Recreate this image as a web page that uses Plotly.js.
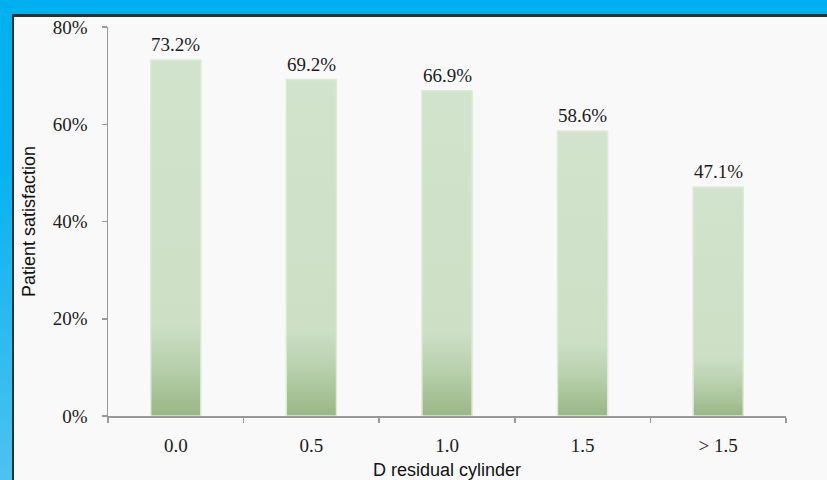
<!DOCTYPE html>
<html>
<head>
<meta charset="utf-8">
<script src="https://cdn.plot.ly/plotly-3.0.1.min.js"></script>
<style>
  html, body { margin: 0; padding: 0; }
  body {
    width: 827px; height: 480px; overflow: hidden; position: relative;
    background: linear-gradient(to bottom, #00AFEF 0%, #08B2EF 35%, #4DC2F0 100%);
  }
  #panel {
    position: absolute; left: 12px; top: 14px; width: 900px; height: 600px;
    background: #F9F9F9; border-top: 3px solid #2E2E2E; border-left: 2px solid #2E2E2E;
  }
  #chart { position: absolute; left: 0; top: 0; width: 827px; height: 480px; }
</style>
</head>
<body>
<svg width="0" height="0" style="position:absolute">
  <defs>
    <linearGradient id="barShade" x1="0" y1="0" x2="0" y2="1">
      <stop offset="0" stop-color="#D1E3CC"/>
      <stop offset="0.74" stop-color="#CDE0C6"/>
      <stop offset="0.86" stop-color="#B8D0AC"/>
      <stop offset="1" stop-color="#99B786"/>
    </linearGradient>
  </defs>
</svg>
<div id="panel"></div>
<div id="chart"></div>
<script>
// Residual cylinder groups and share of satisfied patients (%)
const categories = ['0.0', '0.5', '1.0', '1.5', '> 1.5'];
const satisfaction = [73.2, 69.2, 66.9, 58.6, 47.1];
const yTickValues = [0, 20, 40, 60, 80];
const yTickLabels = ['0%', '20%', '40%', '60%', '80%'];

const serif = 'Liberation Serif, Times New Roman, serif';
const sans = 'Liberation Sans, Arial, sans-serif';

const bars = {
  type: 'bar',
  x: categories,
  y: satisfaction,
  width: 0.37,
  marker: { color: '#CDE0C6', line: { color: '#DDEBD6', width: 1.5 } },
  hoverinfo: 'skip'
};

// value labels sit above each bar (category index on the x axis)
const valueLabels = categories.map((c, i) => ({
  x: i, y: satisfaction[i], xref: 'x', yref: 'y',
  text: satisfaction[i].toFixed(1) + '%',
  showarrow: false, yanchor: 'bottom', yshift: 3,
  font: { family: serif, size: 19, color: '#1C1C1C' }
}));

const layout = {
  width: 827, height: 480,
  margin: { l: 108, r: 41, t: 27, b: 64 },
  paper_bgcolor: 'rgba(0,0,0,0)',
  plot_bgcolor: 'rgba(0,0,0,0)',
  showlegend: false,
  xaxis: {
    type: 'category',
    showline: true, linecolor: '#999999', linewidth: 1.5,
    ticks: 'outside', ticklen: 5, tickcolor: '#999999', tickwidth: 1.5,
    tickson: 'boundaries',
    showgrid: false, zeroline: false,
    ticklabelstandoff: 12,
    tickfont: { family: serif, size: 19, color: '#1C1C1C' },
    title: { text: 'D residual cylinder', standoff: 15,
             font: { family: sans, size: 18, color: '#111111' } },
    fixedrange: true
  },
  yaxis: {
    range: [0, 80],
    tickvals: yTickValues, ticktext: yTickLabels,
    showline: true, linecolor: '#999999', linewidth: 1.5,
    ticks: 'outside', ticklen: 5, tickcolor: '#999999', tickwidth: 1.5,
    showgrid: false, zeroline: false,
    ticklabelstandoff: 10,
    tickfont: { family: serif, size: 19, color: '#1C1C1C' },
    title: { text: 'Patient satisfaction', standoff: 12,
             font: { family: sans, size: 18, color: '#111111' } },
    fixedrange: true
  },
  annotations: valueLabels
};

Plotly.newPlot('chart', [bars], layout, { displayModeBar: false, staticPlot: true })
  .then(() => {
    // shade each bar darker towards its base
    document.querySelectorAll('#chart .barlayer .point path').forEach(p => {
      p.style.fill = 'url(#barShade)';
      p.style.fillOpacity = '1';
    });
  });
</script>
</body>
</html>
